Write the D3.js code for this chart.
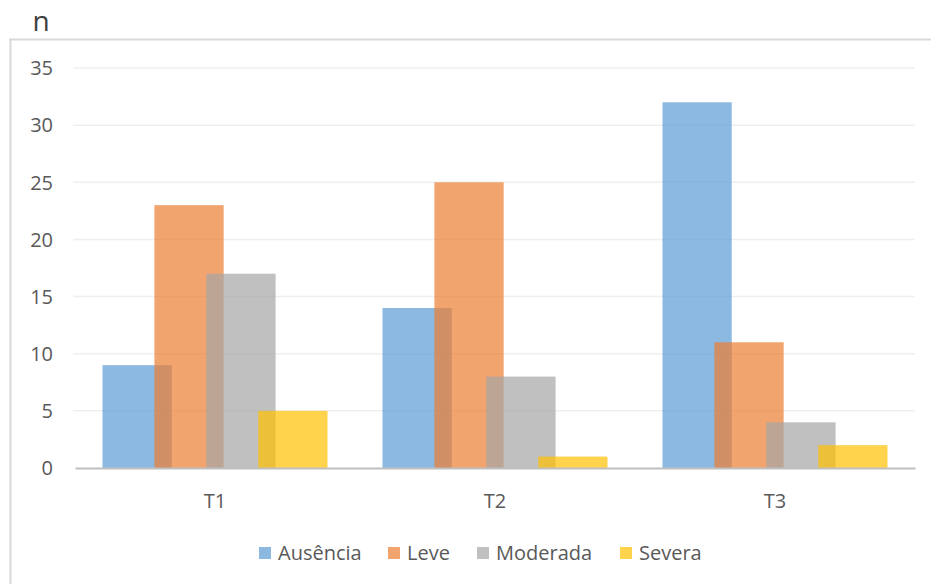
<!DOCTYPE html>
<html>
<head>
<meta charset="utf-8">
<script src="https://cdn.jsdelivr.net/npm/d3@7"></script>
<style>
  html, body { margin: 0; padding: 0; background: #ffffff; }
  svg { display: block; font-family: "Open Sans", "Liberation Sans", sans-serif; }
</style>
</head>
<body>
<svg id="chart" width="931" height="584"></svg>
<script>
// Time points and severity classes
const categories = ["T1", "T2", "T3"];
const seriesNames = ["Ausência", "Leve", "Moderada", "Severa"];
const ausencia = [9, 14, 32];
const leve = [23, 25, 11];
const moderada = [17, 8, 4];
const severa = [5, 1, 2];
const yTicks = [0, 5, 10, 15, 20, 25, 30, 35];
const colors = ["#5B9BD5", "#ED7D31", "#A5A5A5", "#FFC000"];

const seriesValues = [ausencia, leve, moderada, severa];

const svg = d3.select("#chart");
const W = 931, H = 584;
const plot = { left: 75, right: 915, top: 68, bottom: 468 };

// Outer frame lines (top and left edges)
svg.append("line")
  .attr("x1", 9).attr("x2", W).attr("y1", 39.5).attr("y2", 39.5)
  .attr("stroke", "#d9d9d9").attr("stroke-width", 2);
svg.append("line")
  .attr("x1", 10.5).attr("x2", 10.5).attr("y1", 39).attr("y2", H)
  .attr("stroke", "#d9d9d9").attr("stroke-width", 2);

// Axis title
svg.append("text")
  .attr("x", 41).attr("y", 31)
  .attr("text-anchor", "middle")
  .attr("font-size", 28)
  .attr("fill", "#404040")
  .text("n");

const y = d3.scaleLinear().domain([0, 35]).range([plot.bottom, plot.top]);
const x = d3.scaleBand().domain(categories).range([plot.left, plot.right]).padding(0);

// Horizontal gridlines
svg.append("g")
  .selectAll("line")
  .data(yTicks.filter(d => d > 0))
  .join("line")
  .attr("x1", plot.left - 2).attr("x2", plot.right)
  .attr("y1", d => y(d)).attr("y2", d => y(d))
  .attr("stroke", "#efefef").attr("stroke-width", 1.5);

// Y tick labels
const yAxis = d3.axisLeft(y).tickValues(yTicks).tickSize(0).tickPadding(0);
const gy = svg.append("g").attr("transform", `translate(${53},0)`).call(yAxis);
gy.select(".domain").remove();
gy.selectAll("text")
  .attr("font-family", "\"Open Sans\", sans-serif")
  .attr("font-size", 20)
  .attr("fill", "#595959")
  .attr("dy", "0.34em");

// Clustered bars with 25% overlap, translucent fill
const bandW = x.bandwidth();
const groupW = bandW * 225 / 280;
const barW = groupW / 3.25;
const step = barW * 0.75;
const inner = d3.scaleBand().domain(seriesNames)
  .range([0, step * 4]).padding(0);

const gBars = svg.append("g");
seriesNames.forEach((name, si) => {
  gBars.append("g")
    .attr("fill", colors[si])
    .attr("fill-opacity", 0.7)
    .selectAll("rect")
    .data(seriesValues[si].map((v, ci) => ({ cat: categories[ci], v })))
    .join("rect")
    .attr("x", d => x(d.cat) + (bandW - groupW) / 2 + inner(name))
    .attr("y", d => y(d.v))
    .attr("width", barW)
    .attr("height", d => y(0) - y(d.v));
});

// Category axis
const xAxis = d3.axisBottom(x).tickSize(0).tickPadding(0);
const gx = svg.append("g").attr("transform", `translate(0,${plot.bottom})`).call(xAxis);
gx.select(".domain")
  .attr("stroke", "#bfbfbf").attr("stroke-width", 2);
gx.selectAll("text")
  .attr("font-family", "\"Open Sans\", sans-serif")
  .attr("font-size", 20)
  .attr("fill", "#595959")
  .attr("y", 40)
  .attr("dy", 0);

// Legend
const legendX = [259, 388, 477, 620];
const legend = svg.append("g");
seriesNames.forEach((name, i) => {
  const g = legend.append("g").attr("transform", `translate(${legendX[i]},553)`);
  g.append("rect")
    .attr("x", 0).attr("y", -6).attr("width", 12).attr("height", 12)
    .attr("fill", colors[i]).attr("fill-opacity", 0.7);
  g.append("text")
    .attr("x", 19).attr("y", 0).attr("dy", "0.35em")
    .attr("font-size", 20)
    .attr("fill", "#595959")
    .text(name);
});
</script>
</body>
</html>
